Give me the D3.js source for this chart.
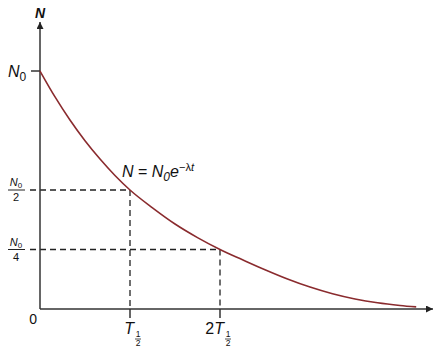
<!DOCTYPE html>
<html>
<head>
<meta charset="utf-8">
<script src="https://cdn.jsdelivr.net/npm/d3@7"></script>
<style>
  body { margin: 0; background: #fff; }
  svg { display: block; }
  text { font-family: "Liberation Sans", Arial, sans-serif; fill: #111; }
</style>
</head>
<body>
<div id="wrapper"></div>
<script>
// curve: time in half-lives, N as a fraction of N0
var times  = [0, 0.167, 0.333, 0.5, 0.667, 0.833, 1, 1.25, 1.5, 1.75, 2, 2.25, 2.5, 2.75, 3.0, 3.25, 3.5, 3.75, 4.0, 4.18];
var counts = [1, 0.891, 0.794, 0.707, 0.63, 0.561, 0.5, 0.425, 0.357, 0.30, 0.25, 0.207, 0.165, 0.126, 0.092, 0.064, 0.042, 0.026, 0.015, 0.009];

// marked levels and times
var levels = [0.5, 0.25];
var levelDenoms = ["2", "4"];
var halfTimes = [1, 2];
var halfLabels = ["", "2"];

var width = 435, height = 347;
var origin = { x: 40, y: 309 };

var svg = d3.select("#wrapper")
    .append("svg")
    .attr("width", width)
    .attr("height", height);

var x = d3.scaleLinear().domain([0, 4.4]).range([origin.x, origin.x + 4.4 * 90]);
var y = d3.scaleLinear().domain([0, 1]).range([origin.y, 71]);

// arrow heads
var defs = svg.append("defs");
defs.append("marker")
    .attr("id", "arrow")
    .attr("viewBox", "0 0 10 10")
    .attr("refX", 10).attr("refY", 5)
    .attr("markerWidth", 10).attr("markerHeight", 7)
    .attr("markerUnits", "userSpaceOnUse")
    .attr("orient", "auto")
    .append("path")
    .attr("d", "M0,0 L10,5 L0,10 Z")
    .attr("fill", "#222");

// dashed guides
var dash = svg.append("g")
    .attr("stroke", "#222")
    .attr("stroke-width", 1.3)
    .attr("stroke-dasharray", "6,4")
    .attr("fill", "none");

levels.forEach(function(v, i) {
    dash.append("line")
        .attr("x1", 30).attr("x2", x(halfTimes[i]))
        .attr("y1", y(v)).attr("y2", y(v));
    dash.append("line")
        .attr("x1", x(halfTimes[i])).attr("x2", x(halfTimes[i]))
        .attr("y1", y(v)).attr("y2", origin.y);
});

// axes
var axes = svg.append("g").attr("stroke", "#333").attr("stroke-width", 1.5);
axes.append("line")
    .attr("x1", origin.x).attr("y1", origin.y)
    .attr("x2", origin.x).attr("y2", 22)
    .attr("marker-end", "url(#arrow)");
axes.append("line")
    .attr("x1", origin.x).attr("y1", origin.y)
    .attr("x2", 433).attr("y2", origin.y)
    .attr("marker-end", "url(#arrow)");

// ticks
axes.append("line")
    .attr("x1", 31).attr("x2", origin.x)
    .attr("y1", y(1)).attr("y2", y(1));
halfTimes.forEach(function(t) {
    axes.append("line")
        .attr("x1", x(t)).attr("x2", x(t))
        .attr("y1", origin.y).attr("y2", origin.y + 9);
});

// decay curve
var line = d3.line()
    .x(function(d) { return x(d[0]); })
    .y(function(d) { return y(d[1]); })
    .curve(d3.curveMonotoneX);

svg.append("path")
    .datum(d3.zip(times, counts))
    .attr("d", line)
    .attr("fill", "none")
    .attr("stroke", "#8a2b2e")
    .attr("stroke-width", 1.6);

// axis titles
svg.append("text")
    .attr("x", origin.x).attr("y", 18)
    .attr("text-anchor", "middle")
    .style("font-size", "14px")
    .style("font-weight", "bold")
    .style("font-style", "italic")
    .text("N");

svg.append("text")
    .attr("x", 37).attr("y", 324)
    .attr("text-anchor", "end")
    .style("font-size", "14px")
    .text("0");

// N0 label
var n0 = svg.append("text")
    .attr("x", 8).attr("y", y(1) + 6)
    .style("font-size", "16px");
n0.append("tspan").style("font-style", "italic").text("N");
n0.append("tspan").attr("dy", 4).style("font-size", "12px").text("0");

// fraction labels
levels.forEach(function(v, i) {
    var g = svg.append("g").attr("transform", "translate(16," + y(v) + ")");
    var num = g.append("text")
        .attr("x", 0).attr("y", -4)
        .attr("text-anchor", "middle")
        .style("font-size", "11px");
    num.append("tspan").style("font-style", "italic").text("N");
    num.append("tspan").attr("dy", 2).style("font-size", "8px").text("0");
    g.append("line")
        .attr("x1", -8).attr("x2", 9)
        .attr("y1", 0).attr("y2", 0)
        .attr("stroke", "#222").attr("stroke-width", 1);
    g.append("text")
        .attr("x", 0).attr("y", 11)
        .attr("text-anchor", "middle")
        .style("font-size", "11px")
        .text(levelDenoms[i]);
});

// half-life labels
halfTimes.forEach(function(t, i) {
    var g = svg.append("g").attr("transform", "translate(" + x(t) + ",334)");
    var lab = g.append("text")
        .attr("x", 4).attr("y", 0)
        .attr("text-anchor", "end")
        .style("font-size", "16px");
    if (halfLabels[i]) lab.append("tspan").text(halfLabels[i]);
    lab.append("tspan").style("font-style", "italic").text("T");
    g.append("text")
        .attr("x", 8).attr("y", 3)
        .attr("text-anchor", "middle")
        .style("font-size", "8.5px")
        .text("1");
    g.append("line")
        .attr("x1", 5).attr("x2", 11)
        .attr("y1", 5).attr("y2", 5)
        .attr("stroke", "#222").attr("stroke-width", 0.8);
    g.append("text")
        .attr("x", 8).attr("y", 11.5)
        .attr("text-anchor", "middle")
        .style("font-size", "8.5px")
        .text("2");
});

// formula
var f = svg.append("text")
    .attr("x", 122).attr("y", 177)
    .style("font-size", "16px");
f.append("tspan").style("font-style", "italic").text("N");
f.append("tspan").text(" = ");
f.append("tspan").style("font-style", "italic").text("N");
f.append("tspan").attr("dy", 4).style("font-size", "12px").style("font-style", "italic").text("0");
f.append("tspan").attr("dy", -4).style("font-style", "italic").text("e");
f.append("tspan").attr("dy", -6).style("font-size", "11px").text("\u2212\u03bb");
f.append("tspan").style("font-size", "11px").style("font-style", "italic").text("t");
</script>
</body>
</html>
